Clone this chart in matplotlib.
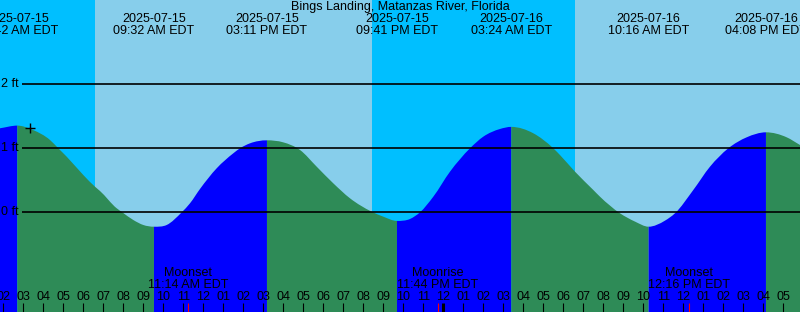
from datetime import datetime
import numpy as np
import matplotlib
matplotlib.use('Agg')
import matplotlib.pyplot as plt
import matplotlib.transforms as mtransforms
from matplotlib.path import Path
from matplotlib.patches import PathPatch

T0 = datetime(2025, 7, 15)


def hrs(s):
    return (datetime.strptime(s, '%Y-%m-%d %H:%M') - T0).total_seconds() / 3600


# tide extremes (high/low)
extreme_times = ['2025-07-15 02:42', '2025-07-15 09:32', '2025-07-15 15:11',
                 '2025-07-15 21:41', '2025-07-16 03:24', '2025-07-16 10:16',
                 '2025-07-16 16:08']
extreme_ft = [1.35, -0.23, 1.12, -0.14, 1.33, -0.23, 1.245]

# curve samples (hours since 07-15 00:00, feet)
curve_hours = [1.835, 3.485, 4.335, 4.75, 5.17, 6.0, 6.585, 6.835, 7.67, 7.95,
               8.5, 9.0, 10.17, 10.92, 11.335, 11.835, 12.67, 13.5, 13.835,
               14.335, 15.99, 16.835, 17.67, 18.5, 19.335, 20.42, 21.0, 22.335,
               22.835, 23.5, 24.335, 25.335, 26.0, 26.835, 28.5, 29.5, 29.835,
               30.585, 31.5, 31.835, 32.835, 33.585, 35.085, 35.585, 36.5,
               37.335, 38.25, 39.17, 41.17, 41.835]
curve_ft = [1.308, 1.281, 1.125, 0.995, 0.864, 0.578, 0.395, 0.328, 0.058, -0.005,
            -0.125, -0.203, -0.203, -0.005, 0.136, 0.36, 0.683, 0.917, 0.995,
            1.073, 1.089, 0.969, 0.708, 0.448, 0.214, 0.005, -0.073, -0.109,
            -0.005, 0.239, 0.63, 0.995, 1.177, 1.297, 1.23, 0.995, 0.89,
            0.63, 0.344, 0.239, -0.02, -0.15, -0.135, -0.02, 0.344,
            0.708, 0.995, 1.167, 1.167, 1.047]

# sunrise / sunset
sun_times = ['2025-07-15 06:35', '2025-07-15 20:25', '2025-07-16 06:35']

# moon events
moon_names = ['Moonset', 'Moonrise', 'Moonset']
moon_times = ['2025-07-15 11:14', '2025-07-15 23:44', '2025-07-16 12:16']

now_time = '2025-07-15 03:20'
now_ft = 1.317

title = 'Bings Landing, Matanzas River, Florida'

X0, X1 = 1.835, 41.835
Y0, Y1 = -1.5625, 3.3125
H = 312.0

NIGHT = '#00bfff'
DAY = '#87ceeb'
FALL = '#2e8b57'
RISE = '#0000ff'

plt.rcParams['font.family'] = ['Liberation Sans', 'DejaVu Sans']

fig = plt.figure(figsize=(8, 3.12), dpi=100)
ax = fig.add_axes([0, 0, 1, 1])
ax.set_xlim(X0, X1)
ax.set_ylim(Y0, Y1)
ax.axis('off')
tr = mtransforms.blended_transform_factory(ax.transData, ax.transAxes)


def ypx(p):
    return 1 - p / H


# day / night background
sun = [hrs(s) for s in sun_times]
edges = [X0] + sun + [X1]
for i in range(len(edges) - 1):
    ax.axvspan(edges[i], edges[i + 1], color=NIGHT if i % 2 == 0 else DAY, lw=0, zorder=0)

# tide curve: samples + extremes, drawn as a smooth bezier path
ext_h = [hrs(s) for s in extreme_times]
t = np.array(curve_hours + ext_h)
v = np.array(curve_ft + extreme_ft)
is_ext = np.array([False] * len(curve_hours) + [True] * len(ext_h))
order = np.argsort(t)
t, v, is_ext = t[order], v[order], is_ext[order]

# tangents for the path (flat at highs / lows)
slope = np.gradient(v, t)
slope[is_ext] = 0.0


def segment_patch(i0, i1, color):
    verts = [(t[i0], Y0), (t[i0], v[i0])]
    codes = [Path.MOVETO, Path.LINETO]
    for i in range(i0, i1):
        dt = t[i + 1] - t[i]
        verts += [(t[i] + dt / 3, v[i] + slope[i] * dt / 3),
                  (t[i + 1] - dt / 3, v[i + 1] - slope[i + 1] * dt / 3),
                  (t[i + 1], v[i + 1])]
        codes += [Path.CURVE4] * 3
    verts += [(t[i1], Y0), (t[i0], Y0)]
    codes += [Path.LINETO, Path.CLOSEPOLY]
    ax.add_patch(PathPatch(Path(verts, codes), facecolor=color, lw=0, zorder=1))


idx = [0] + list(np.where(is_ext)[0]) + [len(t) - 1]
for k in range(len(idx) - 1):
    # segments starting at a high are falling
    segment_patch(idx[k], idx[k + 1], RISE if k % 2 == 0 else FALL)

# grid lines + labels
for ft in [0, 1, 2]:
    ax.hlines(ft, X0 + 1.1, X1, color='black', lw=1.2, zorder=2)
    ax.text(X0 + 0.05, ft, '%d ft' % ft, ha='left', va='center', fontsize=9, zorder=3)

# now marker
ax.plot([hrs(now_time)], [now_ft], marker='+', color='black', ms=7, mew=1, zorder=3)

# title and extreme labels
ax.text(0.5, ypx(7), title, transform=ax.transAxes, ha='center', va='center', fontsize=9)
for s in extreme_times:
    d = datetime.strptime(s, '%Y-%m-%d %H:%M')
    x = hrs(s)
    ax.text(x, ypx(19.5), d.strftime('%Y-%m-%d'), transform=tr, ha='center', va='center', fontsize=9)
    ax.text(x, ypx(31.5), d.strftime('%I:%M %p') + ' EDT', transform=tr, ha='center', va='center', fontsize=9)

# hour ticks
for h in range(2, 42):
    lw = 2.2 if h % 24 == 0 else 0.8
    ax.plot([h, h], [ypx(303), 0], color='black', lw=lw, transform=tr, zorder=3, solid_capstyle='butt')
    ax.text(h, ypx(297), '%02d' % ((h - 1) % 12 + 1), transform=tr, ha='center', va='center', fontsize=9, zorder=3)

# moon events
for name, s in zip(moon_names, moon_times):
    d = datetime.strptime(s, '%Y-%m-%d %H:%M')
    x = hrs(s)
    ax.plot([x, x], [ypx(303), 0], color='red', lw=0.8, transform=tr, zorder=4, solid_capstyle='butt')
    ax.text(x, ypx(273.5), name, transform=tr, ha='center', va='center', fontsize=9, zorder=3)
    ax.text(x, ypx(285.5), d.strftime('%I:%M %p') + ' EDT', transform=tr, ha='center', va='center', fontsize=9, zorder=3)

fig.savefig('out.png', dpi=100)
plt.close(fig)
